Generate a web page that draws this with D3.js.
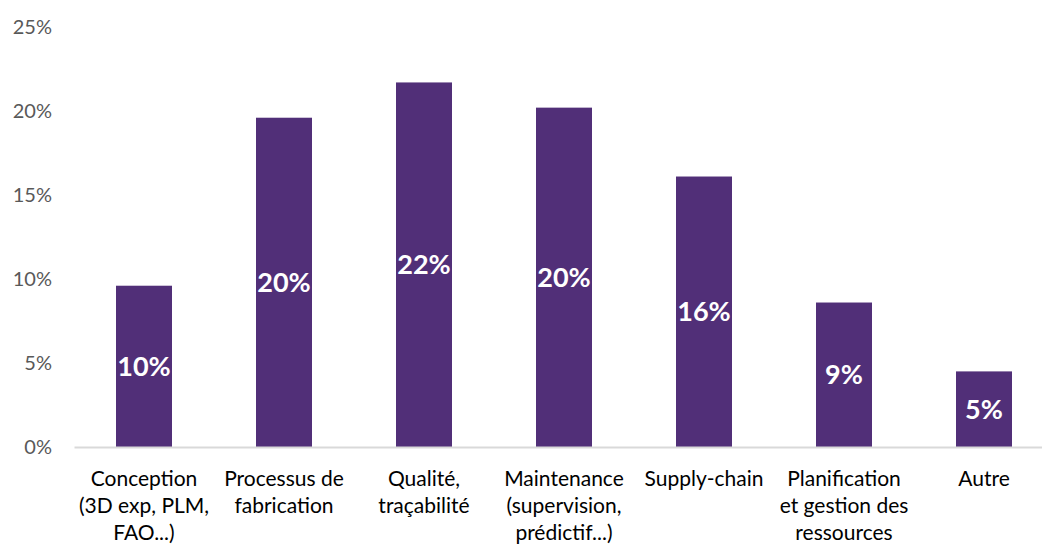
<!DOCTYPE html>
<html>
<head>
<meta charset="utf-8">
<script src="https://cdn.jsdelivr.net/npm/d3@7"></script>
<style>
  body { margin: 0; background: #fff; }
  #chart { width: 1042px; height: 546px; }
</style>
</head>
<body>
<div id="chart"></div>
<script>
const categories = [
  ["Conception", "(3D exp, PLM,", "FAO...)"],
  ["Processus de", "fabrication"],
  ["Qualité,", "traçabilité"],
  ["Maintenance", "(supervision,", "prédictif...)"],
  ["Supply-chain"],
  ["Planification", "et gestion des", "ressources"],
  ["Autre"]
];
const values = [0.096, 0.196, 0.217, 0.202, 0.161, 0.086, 0.045];
const yTicks = [0, 0.05, 0.10, 0.15, 0.20, 0.25];

const container = document.getElementById("chart");
const width = 1042;
const height = 546;

const svg = d3.select(container)
  .append("svg")
  .attr("width", width)
  .attr("height", height);

const font = "Lato, 'Open Sans', sans-serif";
const keys = categories.map((c, i) => "c" + i);

const x = d3.scaleBand()
  .domain(keys)
  .range([74, 1054])
  .paddingInner(0.6)
  .paddingOuter(0.3);

const y = d3.scaleLinear().domain([0, 0.25]).range([447, 27]);

// y axis labels (no line, no ticks)
const yAxis = svg.append("g")
  .attr("transform", "translate(52,0)")
  .call(d3.axisLeft(y).tickValues(yTicks).tickFormat(d3.format(".0%")).tickSize(0).tickPadding(0));
yAxis.select(".domain").remove();
yAxis.selectAll("text")
  .attr("font-family", font)
  .attr("font-size", "20px")
  .attr("fill", "#595959");

// bars
svg.append("g")
  .selectAll("rect")
  .data(values)
  .join("rect")
  .attr("x", (d, i) => x(keys[i]))
  .attr("width", x.bandwidth())
  .attr("y", d => y(d))
  .attr("height", d => y(0) - y(d))
  .attr("fill", "#512f78");

// x axis line
const xAxis = svg.append("g")
  .attr("transform", `translate(0,${y(0)})`)
  .call(d3.axisBottom(x).tickSize(0).tickFormat(""));
xAxis.select(".domain")
  .attr("stroke", "#d9d9d9")
  .attr("stroke-width", 2);

// category labels
categories.forEach((lines, i) => {
  const t = svg.append("text")
    .attr("x", x(keys[i]) + x.bandwidth() / 2)
    .attr("y", 486)
    .attr("text-anchor", "middle")
    .attr("font-family", font)
    .attr("font-size", "21px")
    .attr("fill", "#000");
  lines.forEach((line, j) => {
    t.append("tspan")
      .attr("x", x(keys[i]) + x.bandwidth() / 2)
      .attr("dy", j === 0 ? 0 : 27)
      .text(line);
  });
});

// data labels, centered inside bars
svg.append("g")
  .selectAll("text")
  .data(values)
  .join("text")
  .attr("x", (d, i) => x(keys[i]) + x.bandwidth() / 2)
  .attr("y", d => (y(d) + y(0)) / 2)
  .attr("dy", "0.35em")
  .attr("text-anchor", "middle")
  .attr("font-family", font)
  .attr("font-size", "27px")
  .attr("font-weight", "700")
  .attr("fill", "#fff")
  .text(d => Math.round(d * 100) + "%");
</script>
</body>
</html>
